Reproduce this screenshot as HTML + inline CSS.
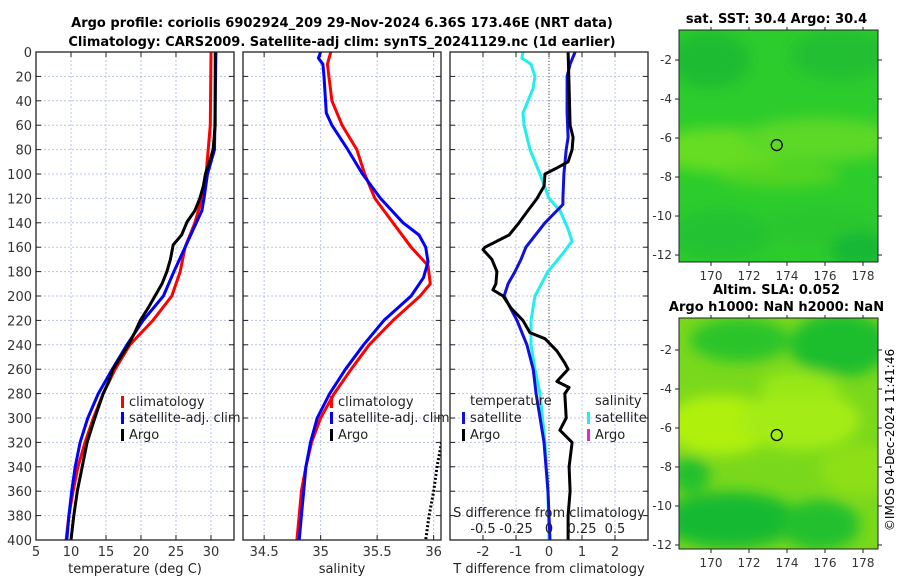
<!DOCTYPE html>
<html><head><meta charset="utf-8"><style>
body{margin:0;background:#fff;}
svg{display:block;font-family:"DejaVu Sans","Liberation Sans",sans-serif;}
</style></head><body>
<svg id="fig" width="900" height="580" viewBox="0 0 900 580">
<defs>
<filter id="blur1" x="-50%" y="-50%" width="200%" height="200%"><feGaussianBlur stdDeviation="7"/></filter>
<clipPath id="clipM1"><rect x="679" y="30" width="199" height="232"/></clipPath>
<clipPath id="clipM2"><rect x="679" y="318" width="199" height="231"/></clipPath>
<clipPath id="clipP2"><rect x="243" y="52" width="198" height="488"/></clipPath>
</defs>
<text x="342" y="27" text-anchor="middle" font-size="13" font-weight="bold">Argo profile: coriolis 6902924_209 29-Nov-2024 6.36S 173.46E (NRT data)</text>
<text x="342" y="46" text-anchor="middle" font-size="13" font-weight="bold">Climatology: CARS2009. Satellite-adj clim: synTS_20241129.nc (1d earlier)</text>
<g id="panels"></g>
<g id="maps"></g>
<text transform="translate(894,440) rotate(-90)" text-anchor="middle" font-size="12">©IMOS 04-Dec-2024 11:41:46</text>
</svg>
<script>
// ---- data ----
const depthTicks=[0,20,40,60,80,100,120,140,160,180,200,220,240,260,280,300,320,340,360,380,400];
const tTicks=[5,10,15,20,25,30];
const sTicks=[34.5,35,35.5,36];
const dTicks=[-2,-1,0,1,2];
const sdTickLabels=['-0.5','-0.25','0','0.25','0.5'];
const sdTickVals=[-0.5,-0.25,0,0.25,0.5];

const climTdepth=[0,60,80,100,120,140,160,180,200,220,240,260,280,300,320,340,360,380,400];
const climT=[30.0,29.9,29.6,29.3,28.7,27.7,26.3,25.6,24.4,21.7,18.4,16.3,14.6,13.2,12.0,11.0,10.3,9.7,9.3];
const satTdepth=[0,80,100,120,130,140,160,180,200,220,240,260,280,300,320,340,360,380,400];
const satT=[30.7,30.5,29.5,29.0,28.7,27.9,26.3,24.7,23.2,20.3,18.0,15.9,13.9,12.4,11.3,10.6,10.1,9.7,9.4];
const argoTdepth=[0,60,80,90,100,110,120,130,139,150,158,170,180,190,200,210,220,230,240,250,260,270,280,290,300,320,340,360,380,400];
const argoT=[30.6,30.6,30.3,29.8,29.2,28.9,28.4,27.7,26.6,25.8,24.6,24.2,23.7,23.0,22.0,21.0,19.9,19.1,18.2,17.1,16.0,15.4,14.6,14.0,13.4,12.3,11.6,10.9,10.4,10.0];

const climSdepth=[0,10,40,60,80,100,120,140,160,175,190,200,220,240,260,280,300,320,340,360,380,400];
const climS=[35.09,35.06,35.1,35.19,35.32,35.39,35.48,35.64,35.8,35.95,35.97,35.88,35.64,35.43,35.27,35.12,35.0,34.92,34.87,34.83,34.81,34.79];
const satSdepth=[0,5,10,20,50,60,80,100,120,140,150,160,172,185,200,220,240,260,280,300,320,340,360,380,400];
const satS=[35.0,34.98,35.02,35.03,35.05,35.1,35.24,35.37,35.53,35.73,35.87,35.93,35.95,35.91,35.8,35.56,35.38,35.22,35.08,34.97,34.91,34.87,34.85,34.83,34.81];
const argoSdepth=[320,340,360,380,400];
const argoS=[36.07,36.03,36.0,35.96,35.93];

const dTdepthArgo=[0,20,60,70,80,90,95,100,110,120,130,140,150,160,162,170,180,190,195,200,210,220,230,235,245,255,260,263,270,275,280,300,310,320,340,360,380,400];
const dTArgo=[0.58,0.6,0.64,0.73,0.7,0.58,0.24,-0.12,-0.15,-0.36,-0.64,-0.91,-1.21,-1.94,-2.0,-1.73,-1.58,-1.61,-1.7,-1.39,-1.15,-0.79,-0.58,-0.12,0.24,0.48,0.58,0.48,0.24,0.61,0.48,0.52,0.33,0.7,0.61,0.64,0.58,0.58];
const dTdepthSat=[0,10,20,50,70,80,100,120,125,140,160,170,180,190,200,220,240,260,280,300,320,340,360,380,400];
const dTSat=[0.79,0.64,0.55,0.55,0.58,0.52,0.45,0.42,0.42,-0.12,-0.7,-0.85,-1.03,-1.24,-1.36,-0.97,-0.67,-0.48,-0.39,-0.27,-0.15,-0.09,-0.03,0,0.03];
const dSdepthSat=[0,5,10,20,30,40,50,60,80,100,120,130,145,155,165,180,200,220,240,260,280,320,360,400];
const dSSat=[-0.197,-0.205,-0.136,-0.106,-0.121,-0.159,-0.197,-0.189,-0.144,-0.068,0,0.083,0.144,0.174,0.106,-0.008,-0.106,-0.136,-0.136,-0.106,-0.068,-0.03,-0.008,0];

// ---- helpers ----
const NS='http://www.w3.org/2000/svg';
const gP=document.getElementById('panels');
function mk(tag,attrs,parent){const e=document.createElementNS(NS,tag);for(const k in attrs)e.setAttribute(k,attrs[k]);(parent||gP).appendChild(e);return e;}
const Y0=52,Y1=540;
const yS=d=>Y0+(d/400)*(Y1-Y0);
function lin(d0,d1,r0,r1){return v=>r0+(v-d0)/(d1-d0)*(r1-r0);}

const panels=[
 {x0:36,x1:234,dom:[5,33.29],ticks:tTicks,labels:tTicks.map(String),title:'temperature (deg C)',name:'temperature'},
 {x0:243,x1:441,dom:[34.313,36.065],ticks:sTicks,labels:['34.5','35','35.5','36'],title:'salinity',name:'salinity'},
 {x0:450,x1:648,dom:[-3.0,3.0],ticks:dTicks,labels:dTicks.map(String),title:'T difference from climatology',name:'t-difference'}
];
panels.forEach((p,i)=>{
 p.xs=lin(p.dom[0],p.dom[1],p.x0,p.x1);
 const g=mk('g',{});
 
 
 depthTicks.forEach(d=>{
  const l=mk('line',{x1:p.x0,x2:p.x1,y1:yS(d),y2:yS(d),stroke:'#b8c4e8','stroke-width':1,'stroke-dasharray':'2,2'},g);
  
  
  mk('line',{x1:p.x0,x2:p.x0+5,y1:yS(d),y2:yS(d),stroke:'#222'},g);
  mk('line',{x1:p.x1-5,x2:p.x1,y1:yS(d),y2:yS(d),stroke:'#222'},g);
  if(i===0){const t=mk('text',{x:p.x0-4,y:yS(d)+5,'text-anchor':'end','font-size':13,fill:'#333'},g);t.textContent=d;
   
   }
 });
 p.ticks.forEach((v,k)=>{
  const x=p.xs(v);
  const l=mk('line',{x1:x,x2:x,y1:Y0,y2:Y1,stroke:'#b8c4e8','stroke-width':1,'stroke-dasharray':'2,2'},g);
  
  
  mk('line',{x1:x,x2:x,y1:Y1,y2:Y1-5,stroke:'#222'},g);
  mk('line',{x1:x,x2:x,y1:Y0,y2:Y0+5,stroke:'#222'},g);
  const t=mk('text',{x:x,y:556,'text-anchor':'middle','font-size':13,fill:'#333'},g);t.textContent=p.labels[k];
  
  
 });
 const t=mk('text',{x:(p.x0+p.x1)/2,y:573,'text-anchor':'middle','font-size':13,fill:'#222'},g);t.textContent=p.title;
 
 
 p.g=g;
});
function line(p,depths,vals,color,w,name,extra){
 const pts=depths.map((d,k)=>p.xs(vals[k]).toFixed(1)+','+yS(d).toFixed(1)).join(' ');
 const a={points:pts,fill:'none',stroke:color,'stroke-width':w,'stroke-linejoin':'round'};
 if(extra)Object.assign(a,extra);
 const e=mk('polyline',a,p.g);
 
 
}
const P1=panels[0],P2=panels[1],P3=panels[2];
line(P1,climTdepth,climT,'#ff0000',3,'clim-temperature-line');
line(P1,satTdepth,satT,'#0000ff',3,'sat-temperature-line');
line(P1,argoTdepth,argoT,'#000',3,'argo-temperature-line');
line(P2,climSdepth,climS,'#ff0000',3,'clim-salinity-line');
line(P2,satSdepth,satS,'#0000ff',3,'sat-salinity-line');
line(P2,argoSdepth,argoS,'#000',3,'argo-salinity-line',{'stroke-dasharray':'2,2','clip-path':'url(#clipP2)'});
{const z=mk('line',{x1:P3.xs(0),x2:P3.xs(0),y1:Y0,y2:Y1,stroke:'#555','stroke-dasharray':'1,2'},P3.g);
 
 }
const sScale=v=>v*4;
line(P3,dSdepthSat,dSSat.map(sScale),'#22eeee',3,'sat-salinity-diff-line');
line(P3,dTdepthSat,dTSat,'#1010dd',3,'sat-temperature-diff-line');
line(P3,dTdepthArgo,dTArgo,'#000',3,'argo-temperature-diff-line');
{const t=mk('text',{x:549,y:517,'text-anchor':'middle','font-size':13,fill:'#222'},P3.g);t.textContent='S difference from climatology';
 
 
 sdTickVals.forEach((v,k)=>{const u=mk('text',{x:P3.xs(sScale(v)),y:533,'text-anchor':'middle','font-size':13,fill:'#222'},P3.g);u.textContent=sdTickLabels[k];
  
  });}
panels.forEach(p=>{const r=mk('rect',{x:p.x0,y:Y0,width:p.x1-p.x0,height:Y1-Y0,fill:'none',stroke:'#222','stroke-width':1.3},p.g);
 
 });
function legend(p,x,y,label,color,name){
 mk('rect',{x:x,y:y-10,width:3,height:12,fill:color},p.g);
 const t=mk('text',{x:x+8,y:y,'font-size':13,fill:'#222'},p.g);t.textContent=label;
 
 
}
[[P1,121],[P2,330]].forEach(([p,x])=>{
 legend(p,x,406,'climatology','#ff0000','legend-climatology');
 legend(p,x,422,'satellite-adj. clim','#0000ff','legend-satellite-adj');
 legend(p,x,439,'Argo','#000','legend-argo');
});
{const t=mk('text',{x:470,y:405,'font-size':13,fill:'#222'},P3.g);t.textContent='temperature';
 
 const s=mk('text',{x:595,y:405,'font-size':13,fill:'#222'},P3.g);s.textContent='salinity';
 }
legend(P3,462,422,'satellite','#1010dd','legend-t-satellite');
legend(P3,462,439,'Argo','#000','legend-t-argo');
legend(P3,587,422,'satellite','#22eeee','legend-s-satellite');
legend(P3,587,439,'Argo','#ee22cc','legend-s-argo');

// ---- maps ----
const gM=document.getElementById('maps');
const lonTicks=[170,172,174,176,178];
const latTicks=[-2,-4,-6,-8,-10,-12];
const maps=[
 {x0:679,x1:878,y0:30,y1:262,latTop:-0.46,title:['sat. SST: 30.4 Argo: 30.4'],clip:'url(#clipM1)',name:'sst-map',
  base:'#2ccc2c',blobs:[[720,150,70,22,'#66dd22'],[820,140,80,22,'#5cd826'],[780,175,60,12,'#55d424'],[710,60,40,28,'#1cbb30'],[840,55,50,25,'#20bf30'],[720,235,50,25,'#22c230'],[820,225,60,20,'#2ac62e'],[860,250,30,18,'#18b834']]},
 {x0:679,x1:878,y0:318,y1:549,latTop:-0.36,title:['Altim. SLA: 0.052','Argo h1000: NaN h2000: NaN'],clip:'url(#clipM2)',name:'sla-map',
  base:'#7ad81c',blobs:[[720,425,55,30,'#b0f010'],[800,420,60,30,'#a4ec12'],[860,470,40,25,'#8ee018'],[740,340,50,22,'#2cc42a'],[840,345,50,32,'#1cbe2e'],[730,520,70,28,'#18ba30'],[820,525,40,25,'#22c02e'],[690,475,20,18,'#24c02e'],[800,385,40,14,'#98e814']]}
];
maps.forEach(m=>{
 const g=mk('g',{},gM);
 
 
 const ly=lat=>m.y0+(m.latTop-lat)*19.5;
 const lx=lon=>711+(lon-170)*19;
 const cg=mk('g',{'clip-path':m.clip},g);
 mk('rect',{x:m.x0,y:m.y0,width:m.x1-m.x0,height:m.y1-m.y0,fill:m.base},cg);
 const bg=mk('g',{filter:'url(#blur1)'},cg);
 m.blobs.forEach(b=>mk('ellipse',{cx:b[0],cy:b[1],rx:b[2],ry:b[3],fill:b[4]},bg));
 const c=mk('circle',{cx:lx(173.46),cy:ly(-6.36),r:5.5,fill:'none',stroke:'#000','stroke-width':1.3},g);
 
 
 mk('rect',{x:m.x0,y:m.y0,width:m.x1-m.x0,height:m.y1-m.y0,fill:'none',stroke:'#222'},g);
 lonTicks.forEach(v=>{const x=lx(v);mk('line',{x1:x,x2:x,y1:m.y1,y2:m.y1+4,stroke:'#222'},g);mk('line',{x1:x,x2:x,y1:m.y0,y2:m.y0-3,stroke:'#222'},g);
  const t=mk('text',{x:x,y:m.y1+18,'text-anchor':'middle','font-size':12,fill:'#333'},g);t.textContent=v;
  });
 latTicks.forEach(v=>{const y=ly(v);mk('line',{x1:m.x0,x2:m.x0-4,y1:y,y2:y,stroke:'#222'},g);mk('line',{x1:m.x1,x2:m.x1+4,y1:y,y2:y,stroke:'#222'},g);
  const t=mk('text',{x:m.x0-7,y:y+4,'text-anchor':'end','font-size':12,fill:'#333'},g);t.textContent=v;
  });
 m.title.forEach((s,k)=>{const t=mk('text',{x:(m.x0+m.x1)/2-2,y:m.y0-(m.title.length-k-1)*17-7,'text-anchor':'middle','font-size':13,'font-weight':'bold'},g);t.textContent=s;
  });
});
</script>
</body></html>
